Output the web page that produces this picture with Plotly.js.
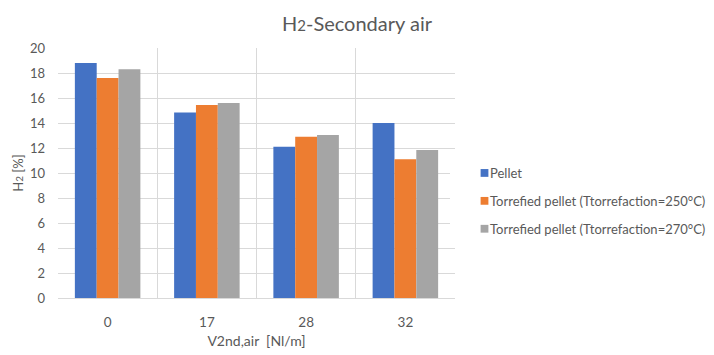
<!DOCTYPE html>
<html>
<head>
<meta charset="utf-8">
<script src="https://cdn.plot.ly/plotly-3.0.1.min.js"></script>
<style>html,body{margin:0;padding:0;background:#fff}#chart{width:714px;height:355px}</style>
</head>
<body>
<div id="chart"></div>
<script>
const categories = ['0', '17', '28', '32'];
const seriesNames = ['Pellet', 'Torrefied pellet (Ttorrefaction=250°C)', 'Torrefied pellet (Ttorrefaction=270°C)'];
const pellet = [18.8, 14.85, 12.1, 14.0];
const torrefied250 = [17.6, 15.45, 12.9, 11.1];
const torrefied270 = [18.3, 15.6, 13.05, 11.85];
const yTicks = [0, 2, 4, 6, 8, 10, 12, 14, 16, 18, 20];

const colors = ['#4472C4', '#ED7D31', '#A5A5A5'];
const seriesValues = [pellet, torrefied250, torrefied270];
const xPos = categories.map((c, i) => i);
const FONT = 'Lato, "Open Sans", sans-serif';

const traces = seriesValues.map((vals, k) => ({
  type: 'bar',
  name: seriesNames[k],
  x: xPos,
  y: vals,
  marker: {color: colors[k]},
  legendgroup: 'g' + k,
  hoverinfo: 'y'
}));

const layout = {
  width: 714, height: 355,
  margin: {l: 58, r: 259, t: 48, b: 57, autoexpand: false},
  paper_bgcolor: '#ffffff', plot_bgcolor: '#ffffff',
  font: {family: FONT, color: '#595959', size: 13},
  title: {
    text: 'H<span style="font-size:15px">2</span>-Secondary air',
    font: {family: FONT, size: 20, color: '#595959'},
    x: 0.5, xref: 'container', xanchor: 'center',
    y: 1 - 24/355, yref: 'container', yanchor: 'middle'
  },
  barmode: 'group',
  bargap: 0.34,
  bargroupgap: 0,
  showlegend: true,
  legend: {
    x: 1.0, xanchor: 'left', y: 0.388, yanchor: 'middle',
    font: {family: FONT, size: 13, color: '#595959'},
    traceorder: 'grouped', tracegroupgap: 8,
    itemwidth: 30
  },
  xaxis: {
    range: [-0.5, 3.5],
    tickmode: 'array', tickvals: xPos, ticktext: categories,
    showgrid: false, zeroline: false,
    showline: true, linecolor: '#d9d9d9', linewidth: 1,
    ticks: '', ticklabelstandoff: 12,
    tickfont: {family: FONT, size: 13.5, color: '#595959'},
    minor: {tick0: 0.5, dtick: 1, showgrid: true, gridcolor: '#d9d9d9', gridwidth: 1},
    title: {text: 'V2nd,air  [Nl/m]', font: {family: FONT, size: 14, color: '#595959'}, standoff: 6},
    fixedrange: true
  },
  yaxis: {
    range: [0, 20],
    tickmode: 'array', tickvals: yTicks,
    showgrid: true, gridcolor: '#d9d9d9', gridwidth: 1,
    zeroline: false, showline: false,
    ticks: '', ticklabelstandoff: 12,
    tickfont: {family: FONT, size: 13, color: '#595959'},
    title: {text: 'H<span style="font-size:10px">2</span> [%]', font: {family: FONT, size: 13, color: '#595959'}, standoff: 3},
    fixedrange: true
  }
};

Plotly.newPlot('chart', traces, layout, {displayModeBar: false, staticPlot: true}).then(() => {
  // tighten legend swatches next to their labels, as in the reference
  document.querySelectorAll('#chart .legend .legendpoints').forEach(g => {
    g.setAttribute('transform', 'translate(21.5,0) scale(0.65)');
  });
  // place the legend where the reference has it (text starting near x=490)
  const leg = document.querySelector('#chart .legend');
  if (leg) {
    const t = leg.getAttribute('transform') || '';
    const m = t.match(/translate\(\s*([-\d.]+)[ ,]+([-\d.]+)\s*\)/);
    if (m) {
      const x = parseFloat(m[1]), y = parseFloat(m[2]);
      const item = leg.querySelector('.legendtext');
      let textLeft = x + 40;
      if (item) {
        const bb = item.getBoundingClientRect();
        const cb = document.getElementById('chart').getBoundingClientRect();
        textLeft = bb.left - cb.left;
      }
      leg.setAttribute('transform', 'translate(' + (x + (490 - textLeft)) + ',' + y + ')');
    }
  }
});
</script>
</body>
</html>
